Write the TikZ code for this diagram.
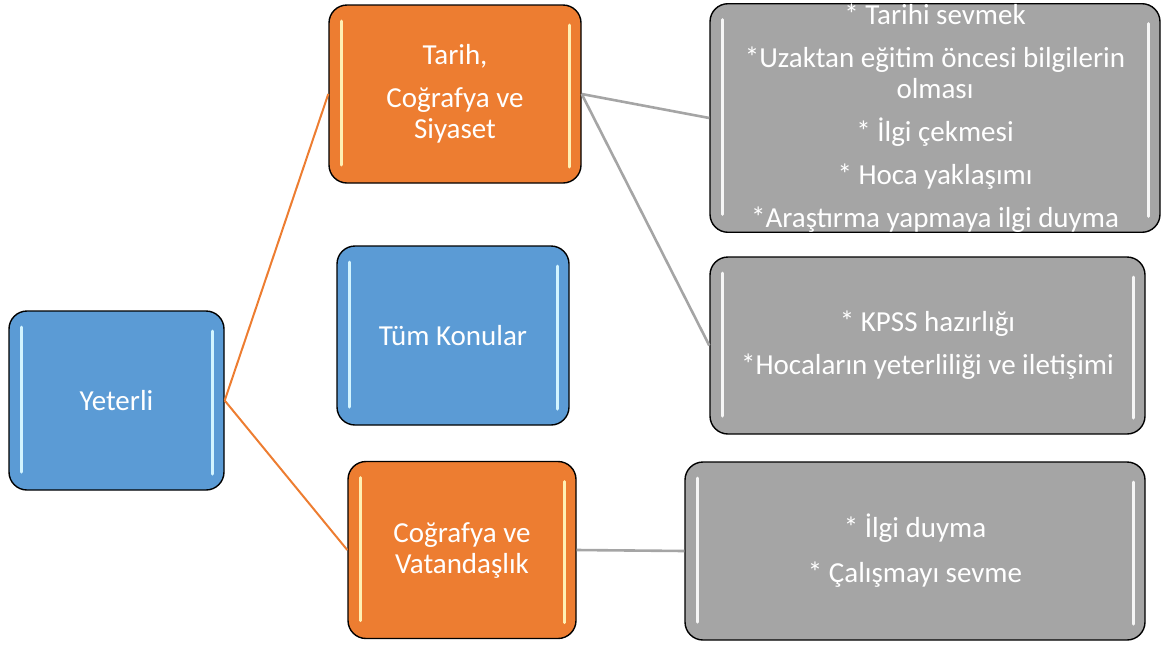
\documentclass[tikz,border=0pt]{standalone}
\usepackage{fontspec}
\setmainfont{Carlito}
\usetikzlibrary{positioning}
\definecolor{mavi}{HTML}{5B9BD5}
\definecolor{turuncu}{HTML}{ED7D31}
\definecolor{gri}{HTML}{A5A5A5}
\definecolor{maviacik}{HTML}{D2F4FF}
\definecolor{turuncuacik}{HTML}{FFF0B4}
\definecolor{griacik}{HTML}{F6F6F6}
\newcommand{\govde}{\fontsize{29}{31}\selectfont}

\begin{document}
\begin{tikzpicture}[
				x=1pt, y=-1pt,
				kutu/.style 2 args={draw=black, line width=1.4pt, rounded corners=18pt,
					fill=#1, text=white, align=center, inner sep=0pt, font=\govde,
					path picture={
						\draw[#2, line width=3pt, line cap=round]
							([shift={(12pt,-16pt)}]path picture bounding box.north west) --
							([shift={(12pt,18pt)}]path picture bounding box.south west);
						\draw[#2, line width=3pt, line cap=round]
							([shift={(-12pt,-20pt)}]path picture bounding box.north east) --
							([shift={(-12pt,16pt)}]path picture bounding box.south east);
					}},
				mavikutu/.style={kutu={mavi}{maviacik}},
				turuncukutu/.style={kutu={turuncu}{turuncuacik}},
				grikutu/.style={kutu={gri}{griacik}},
				turuncucizgi/.style={turuncu, line width=2pt},
				gricizgi/.style={gri, line width=2.6pt},
			]
				\useasboundingbox (0,0) rectangle (1162,646);
				\node (yeterli) [mavikutu, minimum width=215pt, minimum height=179pt] at (116.5,400.5) {Yeterli};
				\node (tarih) [turuncukutu, minimum width=252pt, minimum height=178pt] at (455,94) {Tarih,\\[12pt]Coğrafya ve\\Siyaset};
				\node (tum) [mavikutu, minimum width=232pt, minimum height=179pt] at (453,335.5) {Tüm Konular};
				\node (cografya) [turuncukutu, minimum width=228pt, minimum height=177pt] at (462,550) {Coğrafya ve\\Vatandaşlık};
				\node (gri1) [grikutu, minimum width=450pt, minimum height=228pt] at (935,118) {* Tarihi sevmek\\[12pt]*Uzaktan eğitim öncesi bilgilerin\\olması\\[12pt]* İlgi çekmesi\\[12pt]* Hoca yaklaşımı\\[12pt]*Araştırma yapmaya ilgi duyma};
				\node (gri2) [grikutu, minimum width=435pt, minimum height=177pt] at (927.5,345.5) {* KPSS hazırlığı\\[12pt]*Hocaların yeterliliği ve iletişimi};
				\node (gri3) [grikutu, minimum width=460pt, minimum height=178pt] at (915,551) {* İlgi duyma\\[14pt]* Çalışmayı sevme};
				
				\draw[turuncucizgi] (yeterli.east) -- (tarih.west);
				\draw[turuncucizgi] (yeterli.east) -- (cografya.west);
				\draw[gricizgi] (tarih.east) -- (gri1.west);
				\draw[gricizgi] (tarih.east) -- (gri2.west);
				\draw[gricizgi] (cografya.east) -- (gri3.west);
			\end{tikzpicture}
\end{document}
